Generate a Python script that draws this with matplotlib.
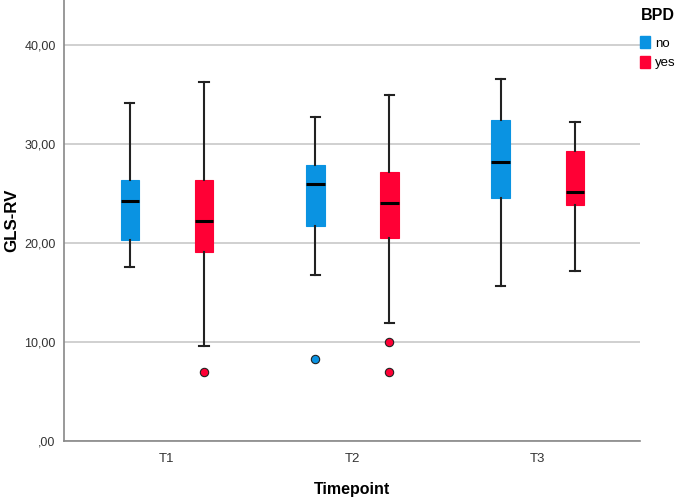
import matplotlib
matplotlib.use("Agg")
import matplotlib.pyplot as plt
from matplotlib.patches import Patch

plt.rcParams['font.family'] = ['Liberation Sans', 'DejaVu Sans']

timepoints = ["T1", "T2", "T3"]
groups = ["no", "yes"]
colors = {"no": "#0A93E2", "yes": "#FF0035"}

# per group: [T1, T2, T3]
whislo = {"no": [17.6, 16.75, 15.7], "yes": [9.6, 11.9, 17.2]}
q1 = {"no": [20.3, 21.7, 24.6], "yes": [19.1, 20.5, 23.85]}
med = {"no": [24.3, 26.0, 28.2], "yes": [22.25, 24.1, 25.2]}
q3 = {"no": [26.4, 27.9, 32.5], "yes": [26.4, 27.2, 29.3]}
whishi = {"no": [34.2, 32.8, 36.6], "yes": [36.3, 35.0, 32.25]}
fliers = {"no": [[], [8.3], []], "yes": [[7.0], [10.0, 6.95], []]}

fig = plt.figure(figsize=(6.85, 5.0), dpi=100)
ax = fig.add_axes([0.0934, 0.118, 0.8406, 0.882])

offsets = {"no": -0.2, "yes": 0.2}
for g in groups:
    stats = []
    for i in range(len(timepoints)):
        stats.append(dict(whislo=whislo[g][i], q1=q1[g][i], med=med[g][i],
                          q3=q3[g][i], whishi=whishi[g][i], fliers=fliers[g][i]))
    pos = [i + offsets[g] for i in range(len(timepoints))]
    ax.bxp(stats, positions=pos, widths=0.1, patch_artist=True, showfliers=True,
           boxprops=dict(facecolor=colors[g], edgecolor=colors[g], linewidth=0.8),
           medianprops=dict(color='black', linewidth=2.2),
           whiskerprops=dict(color='#222222', linewidth=1.5),
           capprops=dict(color='#222222', linewidth=1.5),
           capwidths=0.05,
           flierprops=dict(marker='o', markerfacecolor=colors[g], markeredgecolor='#222222',
                           markersize=6, markeredgewidth=0.8, linestyle='none'),
           zorder=3)

ax.set_xlim(-0.555, 2.55)
ax.set_ylim(0, 44.6)
ax.set_xticks(range(len(timepoints)))
ax.set_xticklabels(timepoints, fontsize=9.5, color='#333333')
yt = [0, 10, 20, 30, 40]
ax.set_yticks(yt)
ax.set_yticklabels([",00", "10,00", "20,00", "30,00", "40,00"], fontsize=9, color='#333333')
ax.tick_params(length=0, pad=6)
ax.tick_params(axis='x', pad=9)
ax.yaxis.grid(True, color='#C8C8C8', linewidth=1.2, zorder=0)
ax.set_axisbelow(True)
for s in ['top', 'right']:
    ax.spines[s].set_visible(False)
for s in ['left', 'bottom']:
    ax.spines[s].set_color('#888888')
    ax.spines[s].set_linewidth(1.2)

ax.set_xlabel("Timepoint", fontsize=11.5, fontweight='bold', labelpad=12)
ax.set_ylabel("GLS-RV", fontsize=12.2, fontweight='bold')
ax.yaxis.set_label_coords(-0.078, 0.5)

handles = [Patch(facecolor=colors[g], edgecolor=colors[g], label=g) for g in groups]
leg = fig.legend(handles=handles, title="BPD", loc='upper left',
                 bbox_to_anchor=(0.935, 0.985), frameon=False, fontsize=9.5,
                 title_fontproperties={'weight': 'bold', 'size': 11.5},
                 handlelength=0.75, handleheight=1.0, handletextpad=0.35,
                 labelspacing=0.45, borderaxespad=0, borderpad=0)
leg._legend_box.align = "left"
leg._legend_box.sep = 10

fig.savefig("out.png", dpi=100)
